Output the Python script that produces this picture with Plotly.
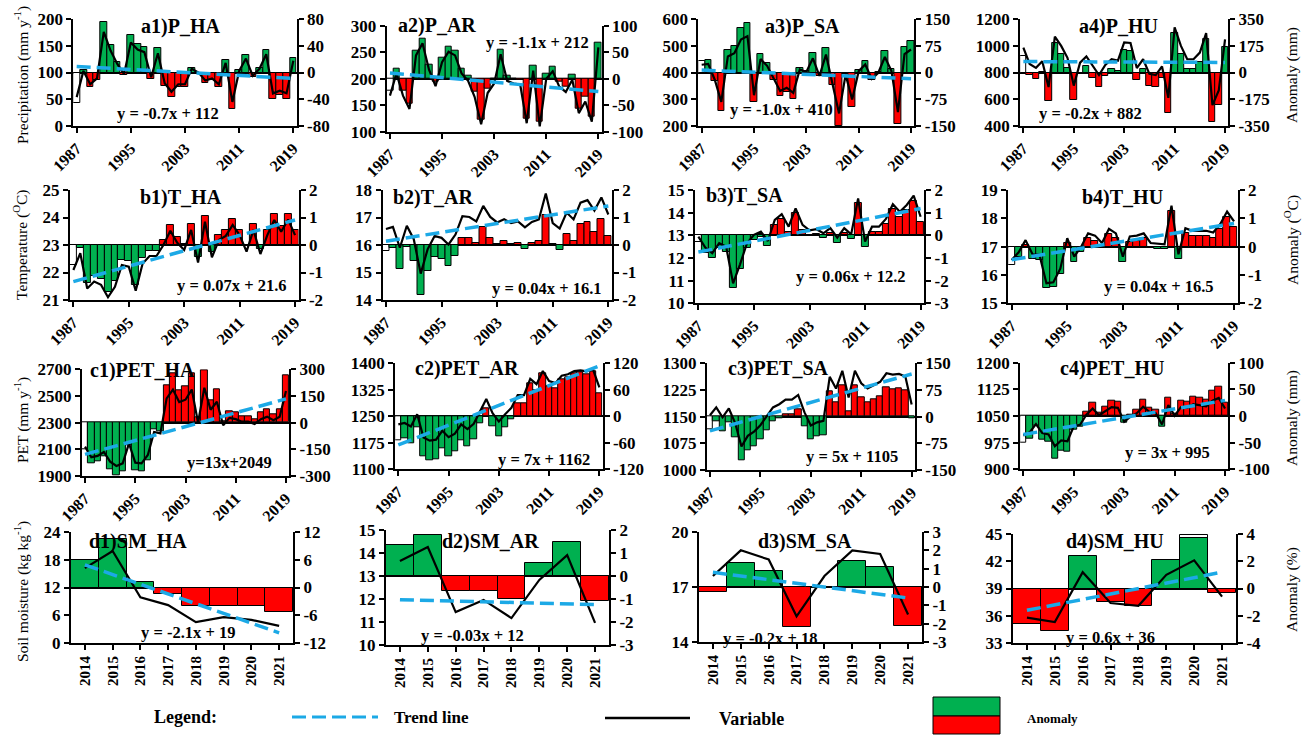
import plotly.graph_objects as go

W, H = 1311, 735
FONT = "Liberation Serif"
GREEN = "#00B050"
RED = "#FF0000"
BLUE = "#1CA9E6"

years = list(range(1987, 2020))
sm_years = ["2014", "2015", "2016", "2017", "2018", "2019", "2020", "2021"]
year_ticks = [1987, 1995, 2003, 2011, 2019]

# ---------------- Precipitation ----------------
P_HA_var = [54, 103, 78, 89, 176, 141, 116, 97, 156, 143, 138, 91, 136, 80, 64, 78, 78, 107, 100, 85, 89, 78, 118, 45, 103, 126, 94, 107, 134, 61, 66, 61, 122]
P_HA_anom = [-46, 3, -22, -11, 76, 41, 16, -3, 56, 43, 38, -9, 36, -20, -36, -22, -22, 7, 0, -15, -11, -22, 18, -55, 3, 26, -6, 7, 34, -39, -34, -39, 22]
P_AR_var = [168, 210, 168, 143, 244, 267, 217, 186, 231, 251, 244, 210, 196, 166, 114, 173, 191, 246, 196, 191, 189, 116, 215, 110, 200, 214, 185, 175, 198, 135, 157, 119, 259]
P_AR_anom = [-23, 19, -23, -48, 53, 76, 26, -5, 40, 60, 53, 19, 5, -25, -77, -18, 0, 55, 5, 0, -2, -75, 24, -81, 9, 23, -6, -16, 7, -56, -34, -72, 68]
P_SA_var = [429, 432, 373, 290, 460, 472, 523, 536, 315, 450, 425, 376, 331, 343, 324, 411, 402, 453, 387, 467, 361, 247, 392, 299, 405, 430, 376, 399, 458, 406, 252, 469, 486]
P_SA_anom = [32, 35, -24, -107, 63, 75, 126, 139, -82, 53, 28, -21, -66, -54, -73, 14, 5, 56, -10, 70, -36, -150, -5, -98, 8, 33, -21, 2, 61, 9, -145, 72, 89]
P_HU_var = [986, 864, 835, 884, 691, 1069, 999, 910, 702, 874, 920, 846, 781, 857, 899, 889, 1025, 1021, 833, 899, 790, 781, 846, 611, 1138, 999, 899, 899, 949, 1095, 556, 665, 1047]
P_HU_anom = [107, -15, -44, 5, -188, 190, 120, 31, -177, -5, 41, -33, -98, -22, 20, 10, 146, 142, -46, 20, -89, -98, -33, -268, 259, 120, 20, 20, 70, 216, -323, -214, 168]

# ---------------- Temperature ----------------
T_HA_var = [22.09, 22.70, 21.42, 21.67, 21.55, 21.10, 21.48, 22.27, 22.21, 21.34, 22.33, 22.60, 22.60, 23.00, 23.52, 23.08, 22.82, 23.55, 22.36, 23.85, 22.55, 23.18, 23.33, 23.73, 23.36, 22.76, 23.55, 22.67, 23.36, 23.91, 23.48, 23.93, 23.36]
T_HA_anom = [-0.71, -0.10, -1.38, -1.13, -1.25, -1.70, -1.32, -0.53, -0.59, -1.46, -0.47, -0.20, -0.20, 0.20, 0.72, 0.28, 0.02, 0.75, -0.44, 1.05, -0.25, 0.38, 0.53, 0.93, 0.56, -0.04, 0.75, -0.13, 0.56, 1.11, 0.68, 1.13, 0.56]
T_AR_var = [16.58, 16.66, 15.90, 16.70, 16.21, 14.96, 15.85, 16.33, 16.26, 16.02, 16.38, 17.05, 17.02, 16.86, 17.42, 17.02, 16.82, 16.94, 16.80, 16.86, 16.64, 16.84, 16.93, 17.87, 16.80, 16.60, 17.18, 16.93, 17.54, 17.63, 17.25, 17.73, 17.11]
T_AR_anom = [-0.20, -0.12, -0.88, -0.08, -0.57, -1.82, -0.93, -0.45, -0.52, -0.76, -0.40, 0.27, 0.24, 0.08, 0.64, 0.24, 0.04, 0.16, 0.02, 0.08, -0.14, 0.06, 0.15, 1.09, 0.02, -0.18, 0.40, 0.15, 0.76, 0.85, 0.47, 0.95, 0.33]
T_SA_var = [12.94, 12.46, 12.21, 12.65, 12.50, 10.88, 11.72, 12.65, 13.02, 13.16, 12.75, 13.68, 13.93, 13.38, 14.19, 13.46, 13.22, 13.27, 13.09, 13.32, 12.90, 13.32, 13.04, 14.63, 12.72, 13.38, 13.38, 13.72, 14.37, 14.04, 14.34, 14.75, 13.82]
T_SA_anom = [-0.28, -0.76, -1.01, -0.57, -0.72, -2.34, -1.50, -0.57, -0.20, -0.06, -0.47, 0.46, 0.71, 0.16, 0.97, 0.24, 0.00, 0.05, -0.13, 0.10, -0.32, 0.10, -0.18, 1.41, -0.50, 0.16, 0.16, 0.50, 1.15, 0.82, 1.12, 1.53, 0.60]
T_HU_var = [16.53, 16.80, 17.23, 16.73, 16.71, 15.71, 15.74, 16.22, 17.30, 16.65, 17.00, 17.47, 17.39, 17.13, 17.63, 17.47, 16.65, 17.36, 17.39, 17.47, 17.13, 17.11, 17.08, 18.45, 16.73, 17.65, 17.56, 17.56, 17.56, 17.50, 17.79, 18.24, 17.89]
T_HU_anom = [-0.65, -0.38, 0.05, -0.45, -0.47, -1.47, -1.44, -0.96, 0.12, -0.53, -0.18, 0.29, 0.21, -0.05, 0.45, 0.29, -0.53, 0.18, 0.21, 0.29, -0.05, -0.07, -0.10, 1.27, -0.45, 0.47, 0.38, 0.38, 0.38, 0.32, 0.61, 1.06, 0.71]

# ---------------- PET ----------------
PET_HA_var = [2120, 2041, 2051, 2080, 2008, 1975, 1995, 2145, 2000, 1995, 2058, 2230, 2220, 2482, 2548, 2454, 2472, 2548, 2300, 2562, 2397, 2457, 2280, 2336, 2326, 2307, 2307, 2289, 2326, 2345, 2319, 2345, 2538]
PET_HA_anom = [-150, -229, -219, -190, -262, -295, -275, -125, -270, -275, -212, -40, -50, 212, 278, 184, 202, 278, 30, 292, 127, 187, 10, 66, 56, 37, 37, 19, 56, 75, 49, 75, 268]
PET_AR_var = [1227, 1231, 1221, 1256, 1190, 1181, 1184, 1209, 1191, 1201, 1227, 1214, 1229, 1265, 1299, 1259, 1235, 1256, 1274, 1310, 1310, 1356, 1341, 1378, 1350, 1344, 1365, 1369, 1378, 1380, 1377, 1382, 1332]
PET_AR_anom = [-54, -50, -60, -25, -91, -100, -97, -72, -90, -80, -54, -67, -52, -16, 18, -22, -46, -25, -7, 29, 29, 75, 60, 97, 69, 63, 84, 88, 97, 99, 96, 101, 51]
PET_SA_var = [1154, 1176, 1148, 1173, 1132, 1066, 1096, 1108, 1126, 1151, 1176, 1185, 1198, 1198, 1211, 1162, 1125, 1134, 1138, 1262, 1229, 1279, 1204, 1279, 1244, 1229, 1239, 1248, 1272, 1268, 1270, 1263, 1184]
PET_SA_anom = [-36, -14, -42, -17, -58, -124, -94, -82, -64, -39, -14, -5, 8, 8, 21, -28, -65, -56, -52, 72, 39, 89, 14, 89, 54, 39, 49, 58, 82, 78, 80, 73, -6]
PET_HU_var = [995, 1004, 1027, 1002, 998, 965, 981, 979, 1021, 1025, 1054, 1071, 1052, 1064, 1075, 1073, 1034, 1048, 1058, 1076, 1062, 1058, 1026, 1081, 1051, 1075, 1073, 1083, 1081, 1077, 1093, 1101, 1071]
PET_HU_anom = [-51, -42, -19, -44, -48, -81, -65, -67, -25, -21, 8, 25, 6, 18, 29, 27, -12, 2, 12, 30, 16, 12, -20, 35, 5, 29, 27, 37, 35, 31, 47, 55, 25]

# ---------------- Soil moisture ----------------
SM_HA_var = [16.2, 19.9, 9.9, 8.2, 4.5, 5.6, 5.0, 3.7]
SM_HA_anom = [6.0, 10.4, 1.2, -1.5, -4.0, -4.0, -4.0, -5.3]
SM_AR_var = [13.65, 14.26, 11.43, 11.96, 11.17, 12.83, 13.91, 10.96]
SM_AR_anom = [1.35, 1.8, -0.65, -0.65, -1.0, 0.57, 1.5, -1.1]
SM_SA_var = [17.6, 19.0, 18.5, 15.4, 17.6, 19.0, 18.8, 15.5]
SM_SA_anom = [-0.25, 1.3, 0.9, -2.2, 0.0, 1.4, 1.1, -2.1]
SM_HU_var = [35.8, 35.3, 40.8, 37.4, 37.1, 40.5, 42.1, 38.1]
SM_HU_anom = [-2.6, -3.1, 2.4, -1.0, -1.3, 2.1, 3.7, -0.3]
# unfilled (white) bar visible behind the 2020 bar of d4
SM_HU_outline = [None, None, None, None, None, None, 3.95, None]

# trend coefficients (slope, intercept) as labelled
trends = {
    "P_HA": (-0.7, 112), "P_AR": (-1.1, 212), "P_SA": (-1.0, 410), "P_HU": (-0.2, 882),
    "T_HA": (0.07, 21.6), "T_AR": (0.04, 16.1), "T_SA": (0.06, 12.2), "T_HU": (0.04, 16.5),
    "PET_HA": (13, 2049), "PET_AR": (7, 1162), "PET_SA": (5, 1105), "PET_HU": (3, 995),
    "SM_HA": (-2.1, 19), "SM_AR": (-0.03, 12), "SM_SA": (-0.2, 18), "SM_HU": (0.6, 36),
}
equations = {
    "P_HA": "y = -0.7x + 112", "P_AR": "y = -1.1x + 212", "P_SA": "y = -1.0x + 410", "P_HU": "y = -0.2x + 882",
    "T_HA": "y = 0.07x + 21.6", "T_AR": "y = 0.04x + 16.1", "T_SA": "y = 0.06x + 12.2", "T_HU": "y = 0.04x + 16.5",
    "PET_HA": "y=13x+2049", "PET_AR": "y = 7x + 1162", "PET_SA": "y = 5x + 1105", "PET_HU": "y = 3x + 995",
    "SM_HA": "y = -2.1x + 19", "SM_AR": "y = -0.03x + 12", "SM_SA": "y = -0.2x + 18", "SM_HU": "y = 0.6x + 36",
}
titles = {
    "P_HA": "a1)P_HA", "P_AR": "a2)P_AR", "P_SA": "a3)P_SA", "P_HU": "a4)P_HU",
    "T_HA": "b1)T_HA", "T_AR": "b2)T_AR", "T_SA": "b3)T_SA", "T_HU": "b4)T_HU",
    "PET_HA": "c1)PET_HA", "PET_AR": "c2)PET_AR", "PET_SA": "c3)PET_SA", "PET_HU": "c4)PET_HU",
    "SM_HA": "d1)SM_HA", "SM_AR": "d2)SM_AR", "SM_SA": "d3)SM_SA", "SM_HU": "d4)SM_HU",
}
# tick values (left = variable, right = anomaly)
left_ticks = {
    "P_HA": [0, 50, 100, 150, 200], "P_AR": [100, 150, 200, 250, 300],
    "P_SA": [200, 300, 400, 500, 600], "P_HU": [400, 600, 800, 1000, 1200],
    "T_HA": [21, 22, 23, 24, 25], "T_AR": [14, 15, 16, 17, 18],
    "T_SA": [10, 11, 12, 13, 14, 15], "T_HU": [15, 16, 17, 18, 19],
    "PET_HA": [1900, 2100, 2300, 2500, 2700], "PET_AR": [1100, 1175, 1250, 1325, 1400],
    "PET_SA": [1000, 1075, 1150, 1225, 1300], "PET_HU": [900, 975, 1050, 1125, 1200],
    "SM_HA": [0, 6, 12, 18, 24], "SM_AR": [10, 11, 12, 13, 14, 15],
    "SM_SA": [14, 17, 20], "SM_HU": [33, 36, 39, 42, 45],
}
right_ticks = {
    "P_HA": [-80, -40, 0, 40, 80], "P_AR": [-100, -50, 0, 50, 100],
    "P_SA": [-150, -75, 0, 75, 150], "P_HU": [-350, -175, 0, 175, 350],
    "T_HA": [-2, -1, 0, 1, 2], "T_AR": [-2, -1, 0, 1, 2],
    "T_SA": [-3, -2, -1, 0, 1, 2], "T_HU": [-2, -1, 0, 1, 2],
    "PET_HA": [-300, -150, 0, 150, 300], "PET_AR": [-120, -60, 0, 60, 120],
    "PET_SA": [-150, -75, 0, 75, 150], "PET_HU": [-100, -50, 0, 50, 100],
    "SM_HA": [-12, -6, 0, 6, 12], "SM_AR": [-3, -2, -1, 0, 1, 2],
    "SM_SA": [-3, -2, -1, 0, 1, 2, 3], "SM_HU": [-4, -2, 0, 2, 4],
}
series = {
    "P_HA": (P_HA_var, P_HA_anom), "P_AR": (P_AR_var, P_AR_anom), "P_SA": (P_SA_var, P_SA_anom), "P_HU": (P_HU_var, P_HU_anom),
    "T_HA": (T_HA_var, T_HA_anom), "T_AR": (T_AR_var, T_AR_anom), "T_SA": (T_SA_var, T_SA_anom), "T_HU": (T_HU_var, T_HU_anom),
    "PET_HA": (PET_HA_var, PET_HA_anom), "PET_AR": (PET_AR_var, PET_AR_anom), "PET_SA": (PET_SA_var, PET_SA_anom), "PET_HU": (PET_HU_var, PET_HU_anom),
    "SM_HA": (SM_HA_var, SM_HA_anom), "SM_AR": (SM_AR_var, SM_AR_anom), "SM_SA": (SM_SA_var, SM_SA_anom), "SM_HU": (SM_HU_var, SM_HU_anom),
}
outlines = {"SM_HU": SM_HU_outline}
order = ["P_HA", "P_AR", "P_SA", "P_HU", "T_HA", "T_AR", "T_SA", "T_HU",
         "PET_HA", "PET_AR", "PET_SA", "PET_HU", "SM_HA", "SM_AR", "SM_SA", "SM_HU"]

# ---------------- geometry (pixels) ----------------
geom = {
    "P_HA": (73.3, 296.7, 19, 126), "P_AR": (386.7, 601.6, 25.7, 131.7),
    "P_SA": (698.4, 914.3, 19, 126), "P_HU": (1020.2, 1228.2, 19, 126),
    "T_HA": (69.9, 298.5, 190, 300), "T_AR": (382.5, 611.8, 190, 300),
    "T_SA": (694.9, 924.1, 190, 303.3), "T_HU": (1008.2, 1237.5, 190, 303.3),
    "PET_HA": (81.9, 289.1, 369.3, 476), "PET_AR": (395.2, 602.5, 363.3, 469.3),
    "PET_SA": (706.8, 914.8, 363.3, 470), "PET_HU": (1020.2, 1228.2, 362.7, 469.3),
    "SM_HA": (71, 293, 532, 643), "SM_AR": (386, 609, 530, 645),
    "SM_SA": (699, 922, 532, 642), "SM_HU": (1013, 1236, 534, 643),
}
title_pos = {
    "P_HA": (180, 27), "P_AR": (437, 25), "P_SA": (802, 26), "P_HU": (1118, 26),
    "T_HA": (181, 197), "T_AR": (433, 197), "T_SA": (745, 195), "T_HU": (1122, 197),
    "PET_HA": (142, 370), "PET_AR": (467, 368), "PET_SA": (778, 368), "PET_HU": (1112, 368),
    "SM_HA": (138, 541), "SM_AR": (490, 541), "SM_SA": (805, 541), "SM_HU": (1115, 541),
}
eq_pos = {
    "P_HA": (168, 113), "P_AR": (537, 42), "P_SA": (781, 110), "P_HU": (1090, 113),
    "T_HA": (232, 285), "T_AR": (547, 288), "T_SA": (851, 277), "T_HU": (1159, 287),
    "PET_HA": (229, 462), "PET_AR": (544, 459), "PET_SA": (852, 456), "PET_HU": (1167, 453),
    "SM_HA": (188, 632), "SM_AR": (472, 635), "SM_SA": (770, 638), "SM_HU": (1110, 637),
}


def fx(x):
    return x / W


def fy(y):
    return 1 - y / H


def fmt(v):
    return str(v)


fig = go.Figure()
layout = {}
annotations = []
ytickfont = dict(family=FONT, size=17, color="black", weight="bold")
xtickfont = dict(family=FONT, size=16, color="black", weight="bold")
dtickfont = dict(family=FONT, size=15, color="black", weight="bold")

for i, key in enumerate(order):
    k = i + 1
    xa = "x" if k == 1 else f"x{k}"
    ya = "y" if k == 1 else f"y{k}"
    ya2 = f"y{k + 16}"
    xkey = "xaxis" if k == 1 else f"xaxis{k}"
    ykey = "yaxis" if k == 1 else f"yaxis{k}"
    y2key = f"yaxis{k + 16}"
    var, anom = series[key]
    is_sm = key.startswith("SM")
    warm_red = key.startswith("T_") or key.startswith("PET")
    pos_col, neg_col = (RED, GREEN) if warm_red else (GREEN, RED)
    xs = sm_years if is_sm else years
    n = len(xs)
    colors = []
    for j, v in enumerate(anom):
        if j == 0 and not is_sm:
            colors.append("white")
        else:
            colors.append(pos_col if v >= 0 else neg_col)
    if key in outlines:
        fig.add_trace(go.Bar(x=xs, y=outlines[key], xaxis=xa, yaxis=ya, width=1,
                             marker=dict(color="white", line=dict(color="black", width=1)),
                             hoverinfo="skip", showlegend=False))
    fig.add_trace(go.Bar(x=xs, y=anom, xaxis=xa, yaxis=ya, width=1,
                         marker=dict(color=colors, line=dict(color="black", width=1)),
                         hoverinfo="skip", showlegend=False))
    fig.add_trace(go.Scatter(x=xs, y=var, xaxis=xa, yaxis=ya2, mode="lines",
                             line=dict(color="black", width=2.2), hoverinfo="skip", showlegend=False))
    a, b = trends[key]
    fig.add_trace(go.Scatter(x=[xs[0], xs[-1]], y=[a * 1 + b, a * n + b], xaxis=xa, yaxis=ya2,
                             mode="lines", line=dict(color=BLUE, width=3.5, dash="14px,6px"),
                             hoverinfo="skip", showlegend=False))
    x0, x1, y0, y1 = geom[key]
    xaxis = dict(domain=[fx(x0), fx(x1)], anchor=ya, showline=True, linecolor="black", linewidth=2,
                 ticks="outside", ticklen=5, tickwidth=1.5, tickcolor="black",
                 showgrid=False, zeroline=False, fixedrange=True, automargin=False)
    if is_sm:
        xaxis.update(type="category", range=[-0.5, n - 0.5], tickangle=-90, tickfont=dtickfont,
                     tickvals=sm_years, ticktext=sm_years)
    else:
        xaxis.update(range=[years[0] - 0.5, years[-1] + 0.5], tickangle=-45, tickfont=xtickfont,
                     tickvals=year_ticks, ticktext=[fmt(t) for t in year_ticks])
    layout[xkey] = xaxis
    rt = right_ticks[key]
    lt = left_ticks[key]
    layout[ykey] = dict(domain=[fy(y1), fy(y0)], anchor=xa, side="right", range=[rt[0], rt[-1]],
                        tickvals=rt, ticktext=[fmt(t) for t in rt], showline=True, linecolor="black",
                        linewidth=2, ticks="outside", ticklen=5, tickwidth=1.5, tickcolor="black",
                        tickfont=ytickfont, showgrid=False, zeroline=True, zerolinecolor="black",
                        zerolinewidth=1.5, fixedrange=True, automargin=False)
    layout[y2key] = dict(overlaying=ya, anchor=xa, side="left", range=[lt[0], lt[-1]],
                         tickvals=lt, ticktext=[fmt(t) for t in lt], showline=True, linecolor="black",
                         linewidth=2, ticks="outside", ticklen=5, tickwidth=1.5, tickcolor="black",
                         tickfont=ytickfont, showgrid=False, zeroline=False, fixedrange=True,
                         automargin=False)
    tx, ty = title_pos[key]
    annotations.append(dict(x=fx(tx), y=fy(ty), xref="paper", yref="paper", text=titles[key],
                            showarrow=False, xanchor="center", yanchor="middle",
                            font=dict(family=FONT, size=20, color="black", weight="bold")))
    ex, ey = eq_pos[key]
    annotations.append(dict(x=fx(ex), y=fy(ey), xref="paper", yref="paper", text=equations[key],
                            showarrow=False, xanchor="center", yanchor="middle",
                            font=dict(family=FONT, size=16.5, color="black", weight="bold")))

# axis titles
left_titles = [("Precipitation (mm y<sup>-1</sup>)", 75), ("Temperature (<sup>O</sup>C)", 245),
               ("PET (mm y<sup>-1</sup>)", 420), ("Soil moisture (kg kg<sup>-1</sup>)", 592)]
right_titles = [("Anomaly (mm)", 75), ("Anomaly (<sup>O</sup>C)", 240),
                ("Anomaly (mm)", 418), ("Anomaly (%)", 590)]
for txt, yy in left_titles:
    annotations.append(dict(x=fx(21), y=fy(yy), xref="paper", yref="paper", text=txt, textangle=-90,
                            showarrow=False, xanchor="center", yanchor="middle",
                            font=dict(family=FONT, size=15.5, color="black")))
for txt, yy in right_titles:
    annotations.append(dict(x=fx(1292), y=fy(yy), xref="paper", yref="paper", text=txt, textangle=-90,
                            showarrow=False, xanchor="center", yanchor="middle",
                            font=dict(family=FONT, size=15.5, color="black")))

# legend (drawn)
annotations += [
    dict(x=fx(185), y=fy(717), xref="paper", yref="paper", text="Legend:", showarrow=False,
         xanchor="center", yanchor="middle",
         font=dict(family=FONT, size=18, color="black", weight="bold")),
    dict(x=fx(431), y=fy(717), xref="paper", yref="paper", text="Trend line", showarrow=False,
         xanchor="center", yanchor="middle",
         font=dict(family=FONT, size=17, color="black", weight="bold")),
    dict(x=fx(751), y=fy(719), xref="paper", yref="paper", text="Variable", showarrow=False,
         xanchor="center", yanchor="middle",
         font=dict(family=FONT, size=18, color="black", weight="bold")),
    dict(x=fx(1052), y=fy(718), xref="paper", yref="paper", text="Anomaly", showarrow=False,
         xanchor="center", yanchor="middle",
         font=dict(family=FONT, size=13, color="black", weight="bold")),
]
shapes = [
    dict(type="line", xref="paper", yref="paper", x0=fx(292), x1=fx(378), y0=fy(717), y1=fy(717),
         line=dict(color=BLUE, width=3, dash="14px,6px")),
    dict(type="line", xref="paper", yref="paper", x0=fx(605), x1=fx(690), y0=fy(718), y1=fy(718),
         line=dict(color="black", width=2.5)),
    dict(type="rect", xref="paper", yref="paper", x0=fx(933), x1=fx(1000), y0=fy(716), y1=fy(697),
         fillcolor=GREEN, line=dict(color="black", width=1)),
    dict(type="rect", xref="paper", yref="paper", x0=fx(933), x1=fx(1000), y0=fy(734), y1=fy(716),
         fillcolor=RED, line=dict(color="black", width=1)),
]

fig.update_layout(width=W, height=H, margin=dict(l=0, r=0, t=0, b=0, autoexpand=False), autosize=False,
                  paper_bgcolor="white", plot_bgcolor="white", bargap=0, barmode="overlay",
                  showlegend=False, annotations=annotations, shapes=shapes,
                  font=dict(family=FONT, color="black"), **layout)
fig.write_html("out.html")
